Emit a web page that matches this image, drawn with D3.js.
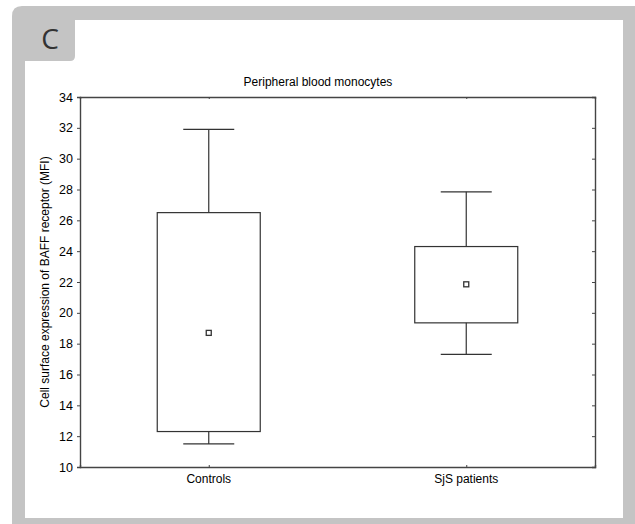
<!DOCTYPE html>
<html>
<head>
<meta charset="utf-8">
<script src="https://cdn.jsdelivr.net/npm/d3@7"></script>
<style>
  body { margin: 0; background: #c4c4c4; }
  svg { display: block; }
</style>
</head>
<body>
<div id="chart"></div>
<script>
const groups = ["Controls", "SjS patients"];
const whiskerLow = [11.5, 17.3];
const boxLow = [12.3, 19.35];
const means = [18.7, 21.85];
const boxHigh = [26.5, 24.3];
const whiskerHigh = [31.9, 27.85];
const yTicks = [10, 12, 14, 16, 18, 20, 22, 24, 26, 28, 30, 32, 34];

const LINE = "#333";
let width = 635, height = 524;
let plotLeft = 80, plotRight = 595, plotTop = 97, plotBottom = 467;

let svg = d3.select("#chart").append("svg")
  .attr("width", width)
  .attr("height", height);

// gray frame with white panel and the "C" tab
svg.append("rect").attr("x", 0).attr("y", 0).attr("width", width).attr("height", height).attr("fill", "#fff");
svg.append("path")
  .attr("d", "M12,524 L12,16 Q12,6 22,6 L635,6 L635,524 Z")
  .attr("fill", "#c4c4c4");
svg.append("path")
  .attr("d", "M25,518 L25,61 L70,61 Q75,61 75,56 L75,20 L623,20 L623,518 Z")
  .attr("fill", "#fff");
svg.append("text")
  .attr("x", 50).attr("y", 49)
  .attr("text-anchor", "middle")
  .attr("font-family", "Open Sans, sans-serif")
  .attr("font-size", 28)
  .attr("fill", "#333")
  .text("C");

let x = d3.scalePoint().domain(groups).range([plotLeft, plotRight]).padding(0.5);
let y = d3.scaleLinear().domain([10, 34]).range([plotBottom, plotTop]);

let font = "Liberation Sans, Arial, sans-serif";

// axes
let gl = svg.append("g").attr("transform", `translate(${plotLeft},0)`)
  .call(d3.axisLeft(y).tickValues(yTicks).tickSize(3).tickPadding(4));
let gr = svg.append("g").attr("transform", `translate(${plotRight},0)`)
  .call(d3.axisLeft(y).tickValues(yTicks).tickSize(3).tickFormat(""));
let gb = svg.append("g").attr("transform", `translate(0,${plotBottom})`)
  .call(d3.axisTop(x).tickSize(2).tickFormat(""));
let gt = svg.append("g").attr("transform", `translate(0,${plotTop})`)
  .call(d3.axisBottom(x).tickSize(2).tickFormat(""));

[gl, gr, gb, gt].forEach(function (g) {
  g.select(".domain").attr("stroke", "#444").attr("stroke-width", 1.4);
  g.selectAll(".tick line").attr("stroke", "#444");
  g.selectAll("text").attr("font-family", font).attr("font-size", 12.5).attr("fill", "#000");
});

// category labels under the axis
svg.append("g").selectAll("text")
  .data(groups)
  .join("text")
  .attr("x", d => x(d))
  .attr("y", plotBottom + 16)
  .attr("text-anchor", "middle")
  .attr("font-family", font)
  .attr("font-size", 12)
  .attr("fill", "#000")
  .text(d => d);

svg.append("text")
  .attr("x", 318).attr("y", 86)
  .attr("text-anchor", "middle")
  .attr("font-family", font)
  .attr("font-size", 12)
  .attr("fill", "#000")
  .text("Peripheral blood monocytes");

svg.append("text")
  .attr("transform", `translate(49,${(plotTop + plotBottom) / 2}) rotate(-90)`)
  .attr("text-anchor", "middle")
  .attr("font-family", font)
  .attr("font-size", 12)
  .attr("fill", "#000")
  .text("Cell surface expression of BAFF receptor (MFI)");

// boxes
let boxW = 103, capW = 51;
let g = svg.append("g").attr("stroke", LINE).attr("stroke-width", 1.2).attr("fill", "none");

groups.forEach(function (d, i) {
  let cx = x(d);
  g.append("line").attr("x1", cx).attr("x2", cx).attr("y1", y(whiskerHigh[i])).attr("y2", y(boxHigh[i]));
  g.append("line").attr("x1", cx).attr("x2", cx).attr("y1", y(boxLow[i])).attr("y2", y(whiskerLow[i]));
  g.append("line").attr("x1", cx - capW / 2).attr("x2", cx + capW / 2).attr("y1", y(whiskerHigh[i])).attr("y2", y(whiskerHigh[i]));
  g.append("line").attr("x1", cx - capW / 2).attr("x2", cx + capW / 2).attr("y1", y(whiskerLow[i])).attr("y2", y(whiskerLow[i]));
  g.append("rect")
    .attr("x", cx - boxW / 2)
    .attr("y", y(boxHigh[i]))
    .attr("width", boxW)
    .attr("height", y(boxLow[i]) - y(boxHigh[i]));
  g.append("rect")
    .attr("x", cx - 2.5)
    .attr("y", y(means[i]) - 2.5)
    .attr("width", 5)
    .attr("height", 5)
    .attr("stroke-width", 1.3);
});
</script>
</body>
</html>
